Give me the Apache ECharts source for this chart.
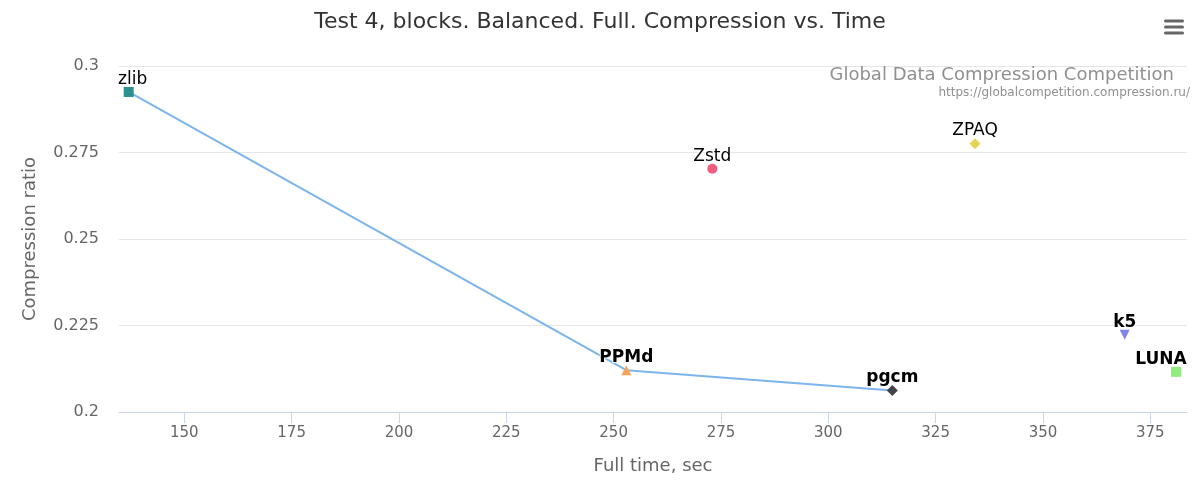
<!DOCTYPE html>
<html>
<head>
<meta charset="utf-8">
<script src="https://cdn.jsdelivr.net/npm/echarts@6/dist/echarts.min.js"></script>
<style>
html,body{margin:0;padding:0;background:#fff;}
#chart{width:1200px;height:500px;}
</style>
</head>
<body>
<div id="chart"></div>
<script>
// ---- data ----
const compressors = ['zlib', 'Zstd', 'ZPAQ', 'PPMd', 'pgcm', 'k5', 'LUNA'];
const fullTime   = [137.05, 272.98, 334.17, 252.95, 314.91, 369.04, 380.99];
const ratio      = [0.2925, 0.2703, 0.2775, 0.2121, 0.2062, 0.2223, 0.2116];
const frontier   = ['zlib', 'PPMd', 'pgcm'];
const xTicks = [150, 175, 200, 225, 250, 275, 300, 325, 350, 375];
const yTicks = [0.2, 0.225, 0.25, 0.275, 0.3];

// ---- styles ----
const FONT = 'DejaVu Sans';
const styleMap = {
  zlib: {color: '#2b908f', symbol: 'rect', size: 10, bold: false, offset: [4, 0]},
  Zstd: {color: '#f15c80', symbol: 'circle', size: 10, bold: false},
  ZPAQ: {color: '#e4d354', symbol: 'diamond', size: 11, bold: false},
  PPMd: {color: '#f7a35c', symbol: 'triangle', size: 10, bold: true},
  pgcm: {color: '#434348', symbol: 'diamond', size: 11, bold: true},
  k5:   {color: '#8085e9', symbol: 'triangle', size: 10, bold: true, rotate: 180},
  LUNA: {color: '#90ed7d', symbol: 'rect', size: 10, bold: true, offset: [-15, 0]}
};

const series = [];
series.push({
  type: 'line',
  name: 'front',
  data: frontier.map(n => { const i = compressors.indexOf(n); return [fullTime[i], ratio[i]]; }),
  symbol: 'none',
  lineStyle: {color: '#7cb5ec', width: 2},
  z: 1,
  silent: true
});
compressors.forEach((n, i) => {
  const s = styleMap[n];
  series.push({
    type: 'scatter',
    name: n,
    data: [[fullTime[i], ratio[i]]],
    symbol: s.symbol,
    symbolSize: s.size,
    symbolRotate: s.rotate || 0,
    itemStyle: {color: s.color, opacity: 1},
    z: 3,
    label: {
      show: true,
      position: 'top',
      distance: -1,
      offset: s.offset || [0, 0],
      formatter: n,
      fontFamily: FONT,
      fontSize: 17,
      fontWeight: s.bold ? 'bold' : 'normal',
      color: '#000',
      textBorderColor: '#fff',
      textBorderWidth: 2
    }
  });
});

const chart = echarts.init(document.getElementById('chart'));
chart.setOption({
  animation: false,
  backgroundColor: '#fff',
  title: {
    text: 'Test 4, blocks. Balanced. Full. Compression vs. Time',
    left: 'center',
    top: 6,
    textStyle: {fontFamily: FONT, fontSize: 22, fontWeight: 'normal', color: '#333'}
  },
  grid: {left: 119, right: 13, top: 66, bottom: 88, containLabel: false},
  xAxis: {
    type: 'value',
    min: 134.79,
    max: 383.55,
    name: 'Full time, sec',
    nameLocation: 'middle',
    nameGap: 45,
    nameTextStyle: {fontFamily: FONT, fontSize: 18, color: '#666'},
    axisLine: {show: true, onZero: false, lineStyle: {color: '#ccd6eb', width: 1}},
    axisTick: {show: true, customValues: xTicks, length: 11, lineStyle: {color: '#ccd6eb'}},
    axisLabel: {customValues: xTicks, margin: 14, fontFamily: FONT, fontSize: 15, color: '#666'},
    splitLine: {show: false}
  },
  yAxis: {
    type: 'value',
    min: 0.2,
    max: 0.3,
    interval: 0.025,
    name: 'Compression ratio',
    nameLocation: 'middle',
    nameRotate: 90,
    nameGap: 80,
    nameTextStyle: {fontFamily: FONT, fontSize: 18, color: '#666'},
    axisLine: {show: false},
    axisTick: {show: false},
    axisLabel: {margin: 20, fontFamily: FONT, fontSize: 16, color: '#666',
      formatter: v => String(+v.toFixed(3))},
    splitLine: {show: true, lineStyle: {color: '#e6e6e6', width: 1}}
  },
  graphic: [
    {type: 'text', right: 26, top: 66, z: 10,
      style: {text: 'Global Data Compression Competition', fontFamily: FONT, fontSize: 18, fill: '#909090'}},
    {type: 'text', right: 10, top: 87, z: 10,
      style: {text: 'https://globalcompetition.compression.ru/', fontFamily: FONT, fontSize: 12, fill: '#909090'}},
    {type: 'rect', left: 1164, top: 19.5, z: 10, shape: {width: 20, height: 3, r: 1.5}, style: {fill: '#666'}},
    {type: 'rect', left: 1164, top: 25.5, z: 10, shape: {width: 20, height: 3, r: 1.5}, style: {fill: '#666'}},
    {type: 'rect', left: 1164, top: 31.5, z: 10, shape: {width: 20, height: 3, r: 1.5}, style: {fill: '#666'}}
  ],
  series: series
});
</script>
</body>
</html>
